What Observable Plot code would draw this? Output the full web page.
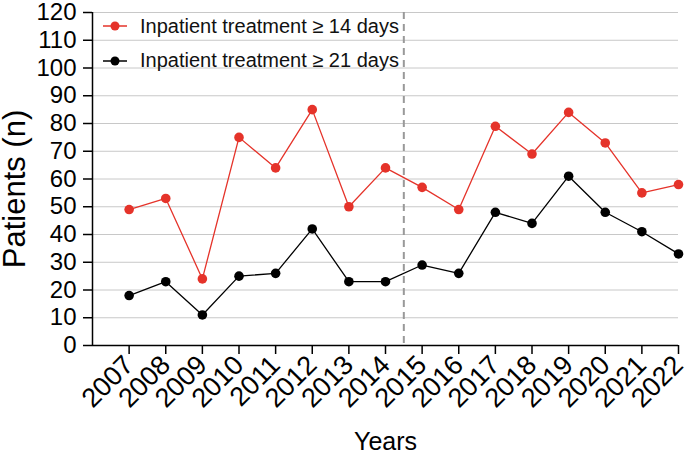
<!DOCTYPE html>
<html>
<head>
<meta charset="utf-8">
<script src="https://cdn.jsdelivr.net/npm/d3@7"></script>
<script src="https://cdn.jsdelivr.net/npm/@observablehq/plot@0.6"></script>
<style>
  html, body { margin: 0; padding: 0; background: #fff; }
  #wrap { position: relative; width: 685px; height: 454px; font-family: "Liberation Sans", Arial, sans-serif; }
  #wrap svg { overflow: visible; }
  #legend { position: absolute; left: 100px; top: 9px; font-size: 20px; color: #111; }
  .item { display: flex; align-items: center; height: 34.5px; }
  .item svg { margin-right: 10px; }
</style>
</head>
<body>
<div id="wrap"></div>
<script>
const years = [2007, 2008, 2009, 2010, 2011, 2012, 2013, 2014, 2015, 2016, 2017, 2018, 2019, 2020, 2021, 2022];
const over14 = [49, 53, 24, 75, 64, 85, 50, 64, 57, 49, 79, 69, 84, 73, 55, 58];
const over21 = [18, 23, 11, 25, 26, 42, 23, 23, 29, 26, 48, 44, 61, 48, 41, 33];
const yTicks = [0, 10, 20, 30, 40, 50, 60, 70, 80, 90, 100, 110, 120];
const seriesNames = ["Inpatient treatment \u2265 14 days", "Inpatient treatment \u2265 21 days"];
const seriesColors = ["#e5332a", "#000000"];
const dividerYear = 2014.5;
const xStart = 2006;

const data = [];
years.forEach((yr, i) => {
  data.push({year: yr, value: over14[i], series: seriesNames[0]});
  data.push({year: yr, value: over21[i], series: seriesNames[1]});
});

const chart = Plot.plot({
  width: 685,
  height: 454,
  marginLeft: 92,
  marginRight: 7,
  marginTop: 12,
  marginBottom: 109,
  style: {fontFamily: "'Liberation Sans', Arial, sans-serif", fontSize: "24px", background: "#fff", color: "#000", overflow: "visible"},
  x: {domain: [xStart, years[years.length - 1]]},
  y: {domain: [yTicks[0], yTicks[yTicks.length - 1]]},
  color: {domain: seriesNames, range: seriesColors},
  marks: [
    Plot.gridY(yTicks.filter(d => d > 0), {stroke: "#c8c8c8", strokeOpacity: 1, strokeWidth: 1}),
    Plot.ruleX([dividerYear], {stroke: "#999", strokeWidth: 2, strokeDasharray: "7,5"}),
    Plot.axisY({ticks: yTicks, tickSize: 9, tickPadding: 7, label: null, fontSize: 24, strokeWidth: 1.5}),
    Plot.axisX({ticks: years, tickFormat: d => String(d), tickRotate: -45, tickSize: 9, tickPadding: 6, label: null, fontSize: 27, strokeWidth: 1.5}),
    Plot.ruleX([xStart], {stroke: "#000", strokeWidth: 1.5}),
    Plot.ruleY([yTicks[0]], {stroke: "#000", strokeWidth: 1.5}),
    Plot.line(data, {x: "year", y: "value", z: "series", stroke: "series", strokeWidth: 1.3}),
    Plot.dot(data, {x: "year", y: "value", fill: "series", r: 4.8}),
    Plot.text(["Patients (n)"], {frameAnchor: "left", textAnchor: "middle", dx: -77, dy: 10, rotate: -90, fontSize: 31, fill: "#000"}),
    Plot.text(["Years"], {frameAnchor: "bottom", lineAnchor: "middle", dy: 96, fontSize: 25, fill: "#000"})
  ]
});

const wrap = document.getElementById("wrap");
wrap.appendChild(chart);

const legend = document.createElement("div");
legend.id = "legend";
seriesNames.forEach((name, i) => {
  const item = document.createElement("div");
  item.className = "item";
  item.innerHTML = `<svg width="30" height="12"><line x1="3" x2="27" y1="6" y2="6" stroke="${seriesColors[i]}" stroke-width="1.5"/><circle cx="15" cy="6" r="4.5" fill="${seriesColors[i]}"/></svg><span>${name}</span>`;
  legend.appendChild(item);
});
wrap.appendChild(legend);
</script>
</body>
</html>
